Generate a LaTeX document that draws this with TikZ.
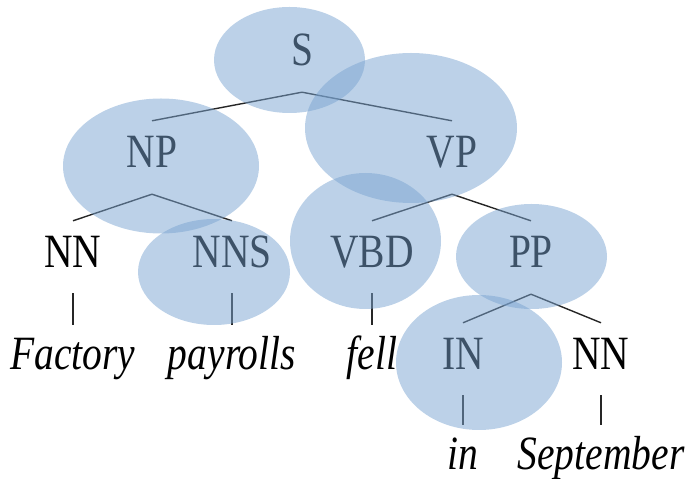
\documentclass[tikz,border=0pt]{standalone}
\usepackage{fontspec}
\setmainfont{Liberation Serif}
\newcommand\tallbox[1]{\scalebox{1}[1.21]{#1}}
\begin{document}
\begin{tikzpicture}[x=1pt,y=1pt,
  tag/.style={anchor=base, inner sep=0pt, text height=32pt, text depth=0pt,
    text=black, font=\fontsize{39.5}{40}\selectfont},
  word/.style={tag, font=\fontsize{39.5}{40}\selectfont\itshape},
  branch/.style={draw=black!85, line width=1.4pt},
  blob/.style={fill={rgb,255:red,122;green,164;blue,209}, fill opacity=0.5}]
\useasboundingbox (0,0) rectangle (691,479);

% phrase and tag labels
\node[tag] (S)   at (302,413) {\tallbox{S}};
\node[tag] (NP)  at (152,311) {\tallbox{NP}};
\node[tag] (VP)  at (452,311) {\tallbox{VP}};
\node[tag] (NN)  at (73,211)  {\tallbox{NN}};
\node[tag] (NNS) at (232,211) {\tallbox{NNS}};
\node[tag] (VBD) at (372,211) {\tallbox{VBD}};
\node[tag] (PP)  at (531,211) {\tallbox{PP}};
\node[tag] (IN)  at (463,109) {\tallbox{IN}};
\node[tag] (NNb) at (601,109) {\tallbox{NN}};

% words
\node[word] (factory)   at (73,109)  {\tallbox{Factory}};
\node[word] (payrolls)  at (232,109) {\tallbox{payrolls}};
\node[word] (fell)      at (372,109) {\tallbox{fell}};
\node[word] (in)        at (463,9)   {\tallbox{in}};
\node[word] (september) at (601,9)   {\tallbox{September}};

% branches
\foreach \p/\c in {S/NP, S/VP, NP/NN, NP/NNS, VP/VBD, VP/PP, PP/IN, PP/NNb}
  \draw[branch] ([yshift=-26pt]\p.south) -- ([yshift=15pt]\c.north);
\foreach \p/\c in {NN/factory, NNS/payrolls, VBD/fell, IN/in, NNb/september}
  \draw[branch] ([yshift=-25pt]\p.south) -- ([yshift=13pt]\c.north);

% translucent highlights
\fill[blob] (289.5,419)  ellipse [x radius=75.5, y radius=53];
\fill[blob] (161,313)    ellipse [x radius=98,   y radius=67.5];
\fill[blob] (411,351)    ellipse [x radius=106,  y radius=75];
\fill[blob] (214,207)    ellipse [x radius=76,   y radius=53];
\fill[blob] (365.5,238)  ellipse [x radius=75.5, y radius=68];
\fill[blob] (531.5,222.5) ellipse [x radius=75.5, y radius=52.5];
\fill[blob] (479,116.5)  ellipse [x radius=83,   y radius=67.5];
\end{tikzpicture}
\end{document}
